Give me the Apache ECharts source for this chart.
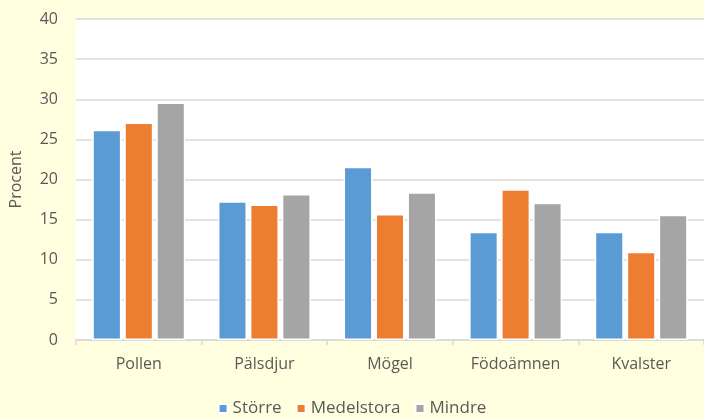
<!DOCTYPE html>
<html>
<head>
<meta charset="utf-8">
<script src="https://cdn.jsdelivr.net/npm/echarts@6/dist/echarts.min.js"></script>
<style>
  html, body { margin: 0; padding: 0; background: #FFFFE0; }
  #chart { width: 704px; height: 419px; }
</style>
</head>
<body>
<div id="chart"></div>
<script>
// kategorier och värden (procent)
const categories = ['Pollen', 'Pälsdjur', 'Mögel', 'Födoämnen', 'Kvalster']
const storre = [26.2, 17.3, 21.6, 13.5, 13.5]
const medelstora = [27.1, 16.9, 15.7, 18.8, 11.0]
const mindre = [29.6, 18.2, 18.4, 17.1, 15.6]
const yTicks = [0, 5, 10, 15, 20, 25, 30, 35, 40]

const font = '"Open Sans", sans-serif'
const textColor = '#595959'

const chart = echarts.init(document.getElementById('chart'))

const barStyle = color => ({
  color: color,
  borderColor: '#ffffff',
  borderWidth: 1.5
})

chart.setOption({
  backgroundColor: '#FFFFE0',
  animation: false,
  textStyle: { fontFamily: font },
  grid: {
    left: 75,
    top: 19,
    right: 0,
    bottom: 79,
    show: true,
    backgroundColor: '#ffffff',
    borderWidth: 0
  },
  legend: {
    bottom: -3,
    left: 'center',
    itemWidth: 9,
    itemHeight: 9,
    itemGap: 14,
    icon: 'rect',
    textStyle: { color: textColor, fontSize: 17, fontFamily: font },
    data: ['Större', 'Medelstora', 'Mindre']
  },
  xAxis: {
    type: 'category',
    data: categories,
    axisLine: { lineStyle: { color: '#D9D9D9', width: 1.5 } },
    axisTick: { show: true, length: 5, lineStyle: { color: '#D9D9D9', width: 1.5 } },
    axisLabel: { color: textColor, fontSize: 16, margin: 16, fontFamily: font }
  },
  yAxis: {
    type: 'value',
    min: yTicks[0],
    max: yTicks[yTicks.length - 1],
    interval: 5,
    name: 'Procent',
    nameLocation: 'middle',
    nameGap: 52,
    nameRotate: 90,
    nameTextStyle: { color: textColor, fontSize: 16, fontFamily: font },
    axisLine: { show: false },
    axisTick: { show: false },
    axisLabel: { color: textColor, fontSize: 16, margin: 18, fontFamily: font },
    splitLine: { lineStyle: { color: '#D9D9D9', width: 1.5 } }
  },
  series: [
    {
      name: 'Större',
      type: 'bar',
      data: storre,
      itemStyle: barStyle('#5B9BD5'),
      barGap: '10%',
      barCategoryGap: '26%'
    },
    {
      name: 'Medelstora',
      type: 'bar',
      data: medelstora,
      itemStyle: barStyle('#ED7D31')
    },
    {
      name: 'Mindre',
      type: 'bar',
      data: mindre,
      itemStyle: barStyle('#A5A5A5')
    }
  ]
})
</script>
</body>
</html>
